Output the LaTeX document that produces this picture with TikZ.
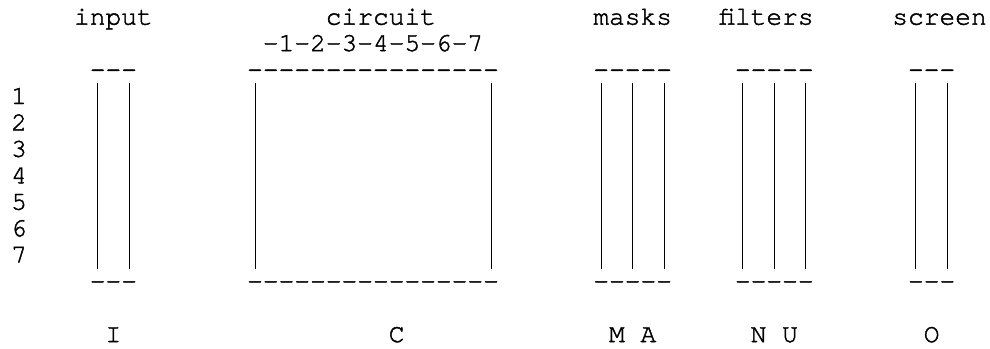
\documentclass[tikz,border=0pt]{standalone}
\usepackage{fontspec}
\newfontfamily\asciifont{TeX Gyre Cursor}[FakeBold=1.6]
\begin{document}
\begin{tikzpicture}[x=1pt,y=-1pt,
  ascii/.style={font={\asciifont\fontsize{26.225}{26.45}\selectfont},
    inner sep=0pt, outer sep=0pt, anchor=base west, text=black},
  colbar/.style={line width=1.2pt, black}]
% character grid: cell width, left edge, first baseline, line pitch
\def\gridw{15.735}
\def\gridx{11.13}
\def\gridy{24.65}
\def\gridh{26.45}
\useasboundingbox (0,0) rectangle (990,348);
% row 0: component names
\node[ascii] (tInput)   at ({\gridx+\gridw*4}, {\gridy})  {input};
\node[ascii] (tCircuit) at ({\gridx+\gridw*20},{\gridy})  {circuit};
\node[ascii] (tMasks)   at ({\gridx+\gridw*37},{\gridy})  {masks};
\node[ascii] (tFilters) at ({\gridx+\gridw*45},{\gridy})  {filters};
\node[ascii] (tScreen)  at ({\gridx+\gridw*56},{\gridy})  {screen};
% row 1: circuit wire numbering
\node[ascii] (tWires) at ({\gridx+\gridw*16},{\gridy+\gridh}) {-1-2-3-4-5-6-7};
% rows 2 and 10: top and bottom rails
\foreach \r/\n in {2/top,10/bot}{
  \node[ascii] (\n I) at ({\gridx+\gridw*5}, {\gridy+\gridh*\r}) {-{}-{}-};
  \node[ascii] (\n C) at ({\gridx+\gridw*15},{\gridy+\gridh*\r}) {-{}-{}-{}-{}-{}-{}-{}-{}-{}-{}-{}-{}-{}-{}-{}-};
  \node[ascii] (\n M) at ({\gridx+\gridw*37},{\gridy+\gridh*\r}) {-{}-{}-{}-{}-};
  \node[ascii] (\n N) at ({\gridx+\gridw*46},{\gridy+\gridh*\r}) {-{}-{}-{}-{}-};
  \node[ascii] (\n O) at ({\gridx+\gridw*57},{\gridy+\gridh*\r}) {-{}-{}-};
}
% rows 3-9: wire numbers
\foreach \k in {1,...,7}{
  \node[ascii] (num\k) at ({\gridx}, {\gridy+\gridh*(\k+2)}) {\k};
}
% vertical walls of each component, snapped to the pixel grid
\foreach \c in {5,7,15,30,37,39,41,46,48,50,57,59}{
  \pgfmathsetmacro{\wallx}{floor(\gridx+\gridw*(\c+0.5))+0.5}
  \coordinate (wallTop\c) at (\wallx, 83);
  \coordinate (wallBot\c) at (\wallx, 269);
  \draw[colbar] (wallTop\c) -- (wallBot\c);
}
% row 12: component letters
\node[ascii] (lI)  at ({\gridx+\gridw*6}, {\gridy+\gridh*12}) {I};
\node[ascii] (lC)  at ({\gridx+\gridw*24},{\gridy+\gridh*12}) {C};
\node[ascii] (lMA) at ({\gridx+\gridw*38},{\gridy+\gridh*12}) {M A};
\node[ascii] (lNU) at ({\gridx+\gridw*47},{\gridy+\gridh*12}) {N U};
\node[ascii] (lO)  at ({\gridx+\gridw*58},{\gridy+\gridh*12}) {O};
\end{tikzpicture}
\end{document}
